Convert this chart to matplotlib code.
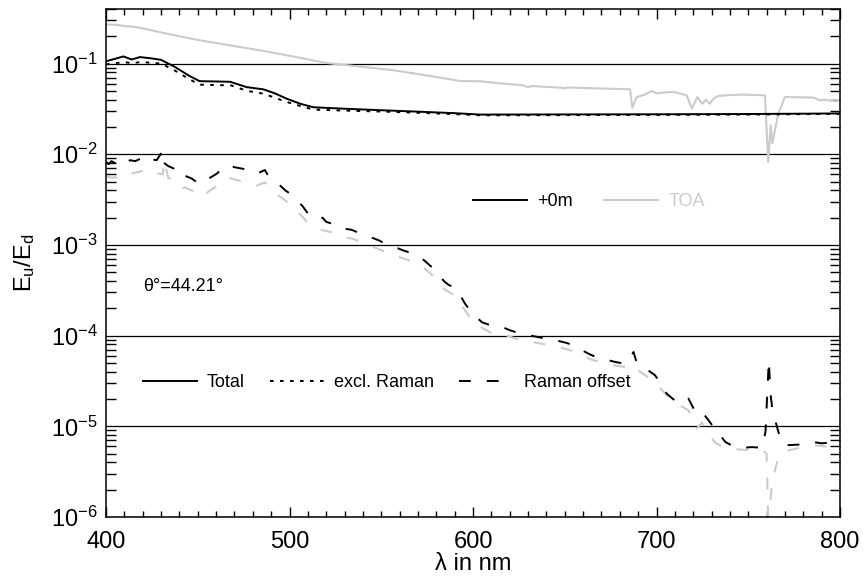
import matplotlib
matplotlib.use("Agg")
import matplotlib.pyplot as plt
from matplotlib.lines import Line2D
from matplotlib.ticker import LogLocator, FixedLocator, NullFormatter, MultipleLocator

plt.rcParams['font.family'] = ['Liberation Sans', 'DejaVu Sans']
plt.rcParams['mathtext.fontset'] = 'custom'
plt.rcParams['mathtext.rm'] = 'Liberation Sans'
plt.rcParams['mathtext.it'] = 'Liberation Sans:italic'
plt.rcParams['mathtext.bf'] = 'Liberation Sans:bold'
plt.rcParams['lines.scale_dashes'] = False

# ---------------- data ----------------
wl_total = [400, 405, 409.5, 414, 418.5, 425, 430, 437.5, 445, 451, 460, 467.6,
            476.7, 485.8, 492, 498.5, 506, 513, 530, 550, 570, 590, 604, 650,
            700, 750, 800]
total = [0.106, 0.113, 0.120, 0.111, 0.118, 0.114, 0.110, 0.092, 0.074, 0.064,
         0.0635, 0.063, 0.055, 0.052, 0.047, 0.041, 0.036, 0.033, 0.0318, 0.0306,
         0.0295, 0.0284, 0.0274, 0.0275, 0.0276, 0.0278, 0.0282]

wl_excl = [400, 405, 410, 414, 419, 425, 430, 437, 445, 451, 460, 468, 477, 486,
           492, 498, 506, 513, 530, 550, 570, 590, 604, 650, 700, 750, 800]
excl = [0.098, 0.101, 0.104, 0.101, 0.104, 0.102, 0.100, 0.085, 0.068, 0.0585,
        0.058, 0.0575, 0.050, 0.0465, 0.042, 0.038, 0.034, 0.0311, 0.0303, 0.0296,
        0.0287, 0.0277, 0.0269, 0.0270, 0.0272, 0.0274, 0.0279]

wl_toa = [400, 405, 411, 415, 420, 429, 440, 451, 465, 484, 500, 520, 540, 557,
          575, 593, 604, 615, 627, 630, 632, 647, 650, 652, 660, 675, 685.6, 686.8,
          689.2, 693, 697.3, 700, 704, 709.2, 716.5, 719.2, 722.3, 724.9, 727, 729,
          731, 733.7, 740, 747.4, 759.1, 760.9, 762.2, 763.1, 766.4, 770, 785.5,
          789, 792, 794.6, 797, 800]
toa = [0.270, 0.268, 0.258, 0.255, 0.245, 0.223, 0.200, 0.181, 0.162, 0.140,
       0.122, 0.1016, 0.092, 0.0843, 0.074, 0.0643, 0.0638, 0.0605, 0.0577, 0.055,
       0.0565, 0.0544, 0.0535, 0.0545, 0.0538, 0.0528, 0.0521, 0.0327, 0.0428,
       0.0450, 0.0499, 0.0470, 0.0480, 0.0487, 0.0447, 0.0319, 0.0428, 0.0360,
       0.0400, 0.0360, 0.0410, 0.0440, 0.0450, 0.0455, 0.0447, 0.0082, 0.0209,
       0.0133, 0.0281, 0.0428, 0.0422, 0.0394, 0.0400, 0.0390, 0.0400, 0.0395]

wl_raman = [400, 401.5, 403, 404.9, 407, 410.4, 413, 416, 419, 423, 425, 427.6,
            431.2, 432, 434, 436.7, 438, 440.3, 443, 446.7, 449, 452.2, 456, 460.3,
            463, 466.7, 470, 474.9, 478, 482.1, 486.6, 488, 491.2, 494, 497.7,
            501, 504, 507, 509.5, 512, 515.7, 518, 520, 523, 526, 528.4, 531,
            533.9, 537, 542, 545, 548.4, 552, 556.6, 559, 562, 566, 571.1, 574,
            577.5, 581, 584.7, 587, 590.2, 593, 595.6, 598, 601.1, 605, 610.2,
            613, 616.5, 620, 624, 627.4, 630, 633.8, 638, 643.8, 647, 651.1, 654,
            657.4, 660, 663.8, 668, 673.8, 678, 682.9, 685, 687.5, 689, 691.2,
            695, 699.2, 702, 705.5, 709, 712.8, 715, 717.4, 720, 722, 724.8,
            727.6, 730, 732.1, 735, 737.6, 742, 747.5, 752, 757.5, 759.4, 761.2,
            762.1, 763, 764.5, 765.7, 768.2, 772, 778.2, 782, 785.5, 790, 795, 800]
raman = [0.0082, 0.0078, 0.0084, 0.0080, 0.0074, 0.0078, 0.0086, 0.0084, 0.0090,
         0.0097, 0.0088, 0.0086, 0.0111, 0.0079, 0.0074, 0.0070, 0.0063, 0.0056,
         0.0058, 0.0054, 0.0050, 0.0047, 0.0054, 0.0061, 0.0068, 0.0076, 0.0072,
         0.0069, 0.0066, 0.0061, 0.0067, 0.0060, 0.0053, 0.0047, 0.0040, 0.0036,
         0.0031, 0.0027, 0.0023, 0.0021, 0.0019, 0.0020, 0.0018, 0.00172, 0.00162,
         0.00151, 0.00150, 0.00147, 0.00138, 0.00128, 0.00120, 0.00113, 0.00104,
         0.00095, 0.00092, 0.00087, 0.00082, 0.00074, 0.00066, 0.00057, 0.00047,
         0.00039, 0.00036, 0.00034, 0.00028, 0.000226, 0.000195, 0.000165,
         0.000140, 0.000129, 0.000124, 0.000123, 0.000115, 0.000108, 0.000103,
         0.000101, 0.000098, 0.000094, 0.000090, 0.000087, 0.000083, 0.000079,
         0.000075, 0.000068, 0.000062, 0.000057, 0.0000535, 0.000051, 0.000049,
         0.000055, 0.000066, 0.000052, 0.000047, 0.000042, 0.0000366, 0.000030,
         0.000023, 0.000020, 0.0000178, 0.000019, 0.0000202, 0.000016, 0.0000138,
         0.0000144, 0.0000122, 0.0000105, 0.0000090, 0.0000078, 0.0000067,
         0.0000060, 0.0000058, 0.0000059, 0.0000058, 0.0000087, 0.0000535,
         0.000023, 0.0000163, 0.000012, 0.0000098, 0.0000065, 0.0000062,
         0.0000063, 0.0000066, 0.0000067, 0.0000065, 0.0000066, 0.0000065]

wl_raman_toa = [400, 403, 405, 408, 410, 413, 418, 423, 427.6, 431, 431.5, 434,
                436.7, 440, 443, 446.7, 452, 456, 460, 467, 471, 475, 482, 486.6,
                491, 494, 497.7, 504, 509.5, 515.7, 523, 528.4, 534, 542, 548,
                556.6, 562, 571, 577.5, 584.7, 590, 595.6, 601, 610, 616.5, 627.4,
                633.8, 643.8, 651, 657.4, 663.8, 673.8, 683, 687.5, 691, 699,
                705.5, 712.8, 717.4, 722, 724.8, 727.6, 732, 737.6, 747.5, 757.5,
                760, 761.2, 762.1, 763, 765.7, 768.2, 778, 785.5, 792, 800]
raman_toa = [0.0058, 0.0055, 0.0056, 0.0053, 0.0055, 0.0061, 0.0064, 0.0069,
             0.0062, 0.0060, 0.0085, 0.0055, 0.0051, 0.0042, 0.0043, 0.0040,
             0.0034, 0.0039, 0.0044, 0.0055, 0.0052, 0.0050, 0.0045, 0.0049,
             0.0039, 0.0035, 0.0031, 0.0024, 0.0018, 0.00149, 0.00138, 0.00121,
             0.00118, 0.00102, 0.00091, 0.00077, 0.00071, 0.00061, 0.00047,
             0.00032, 0.00028, 0.00019, 0.000135, 0.000107, 0.000103, 0.000087,
             0.000084, 0.000077, 0.000071, 0.000065, 0.000055, 0.000048, 0.000045,
             0.000047, 0.000040, 0.000031, 0.000022, 0.000017, 0.000015,
             0.0000095, 0.000011, 0.0000085, 0.0000066, 0.0000057, 0.0000055,
             0.0000055, 0.0000050, 0.0000005, 0.0000015, 0.0000025, 0.0000040,
             0.0000052, 0.0000058, 0.0000062, 0.0000060, 0.0000063]

decades = [1e-1, 1e-2, 1e-3, 1e-4, 1e-5, 1e-6]
decade_labels = [r'$10^{-1}$', r'$10^{-2}$', r'$10^{-3}$', r'$10^{-4}$',
                 r'$10^{-5}$', r'$10^{-6}$']
xticks = [400, 500, 600, 700, 800]
angle_text = 'θ°=44.21°'

BLACK = 'black'
GRAY = '#cbcbcb'
DASH = (0, (8.5, 11.5))
DOT = (0, (2.6, 4.6))

# ---------------- figure ----------------
fig = plt.figure(figsize=(8.63, 5.8), dpi=100)
ax = fig.add_axes([106 / 863, 1 - 517 / 580, 734 / 863, 508 / 580])

ax.plot(wl_toa, toa, color=GRAY, lw=1.5)
ax.plot(wl_excl, excl, color=BLACK, lw=1.4, linestyle=DOT)
ax.plot(wl_total, total, color=BLACK, lw=1.4)
ax.plot(wl_raman_toa, raman_toa, color=GRAY, lw=1.5, linestyle=DASH)
ax.plot(wl_raman, raman, color=BLACK, lw=1.4, linestyle=DASH)

ax.set_yscale('log')
ax.set_xlim(400, 800)
ax.set_ylim(1e-6, 0.4)

ax.yaxis.set_major_locator(FixedLocator(decades))
ax.set_yticks(decades, decade_labels)
ax.yaxis.set_minor_locator(LogLocator(base=10, subs=range(2, 10), numticks=20))
ax.yaxis.set_minor_formatter(NullFormatter())
ax.set_xticks(xticks, [str(v) for v in xticks])
ax.xaxis.set_minor_locator(MultipleLocator(10))

ax.tick_params(which='both', direction='in', top=True, right=True, width=1.0)
ax.tick_params(axis='x', which='major', length=7, labelsize=17, pad=10)
ax.tick_params(axis='x', which='minor', length=4)
ax.tick_params(axis='y', which='major', length=0, labelsize=17, pad=6)
ax.tick_params(axis='y', which='minor', length=7.5)
for s in ax.spines.values():
    s.set_linewidth(1.1)

ax.grid(True, which='major', axis='y', color='black', lw=0.9)

ax.set_xlabel('λ in nm', fontsize=17, labelpad=0)
ax.set_ylabel(r'$\mathrm{E_u/E_d}$', fontsize=17, labelpad=10)

# legends
h1 = [Line2D([], [], color=BLACK, lw=1.4), Line2D([], [], color=GRAY, lw=1.5)]
leg1 = ax.legend(h1, ['+0m', 'TOA'], ncol=2, frameon=False, fontsize=13,
                 loc='center left', bbox_to_anchor=(0.500, 0.621),
                 borderpad=0, borderaxespad=0, handlelength=3.0,
                 handletextpad=0.55, columnspacing=1.75)
leg1.get_texts()[1].set_color(GRAY)
ax.add_artist(leg1)

h2 = [Line2D([], [], color=BLACK, lw=1.4),
      Line2D([], [], color=BLACK, lw=1.4, linestyle=DOT),
      Line2D([], [], color=BLACK, lw=1.4, linestyle=DASH)]
ax.legend(h2, ['Total', 'excl. Raman', 'Raman offset'], ncol=3, frameon=False,
          fontsize=13, loc='center left', bbox_to_anchor=(0.050, 0.264),
          borderpad=0, borderaxespad=0, handlelength=3.0,
          handletextpad=0.55, columnspacing=1.4)

ax.text(0.050, 0.453, angle_text, transform=ax.transAxes, fontsize=13,
        ha='left', va='center')

fig.savefig('out.png', dpi=100)
